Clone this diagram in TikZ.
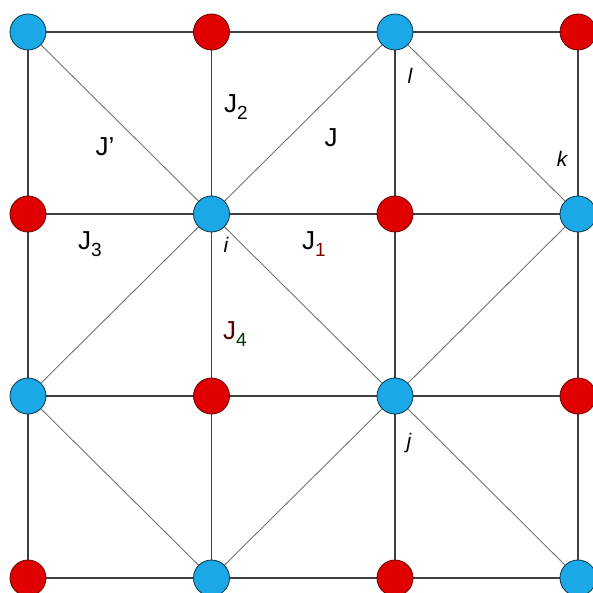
\documentclass[tikz,border=0pt]{standalone}
\usepackage{fontspec}
\setmainfont{Liberation Sans}
\usepackage{tikz}
\definecolor{siteblue}{HTML}{1BA8E6}
\definecolor{sitered}{HTML}{E00000}
\newcommand{\Jsub}[2][black]{J\raisebox{-0.28em}{\fontsize{19}{19}\selectfont\textcolor{#1}{#2}}}

\begin{document}
\begin{tikzpicture}[x=1pt, y=-1pt, every label/.append style={font=\small}]
    \tikzstyle{pt}=[draw,shape=circle,inner sep=0pt,minimum size=36pt,line width=0.8pt];
    \tikzstyle{bl}=[pt,fill=siteblue,draw=black!70!siteblue];
    \tikzstyle{rd}=[pt,fill=sitered,draw=black!55!sitered];
    \tikzstyle{bond}=[line width=1.1pt,draw=black!75];
    \tikzstyle{diag}=[line width=0.9pt,draw=black!55];
    \tikzstyle{lab}=[font=\fontsize{26}{29}\selectfont,inner sep=0pt];
    \tikzstyle{site}=[font=\fontsize{21}{24}\selectfont\itshape,inner sep=0pt];
    \useasboundingbox (0,0) rectangle (592,593);
    %row 1
    \path (28,32) coordinate (11) (211.5,32) coordinate (12) (395,32) coordinate (13) (578,32) coordinate (14);
    %row 2
    \path (28,214) coordinate (21) (211.5,214) coordinate (22) (395,214) coordinate (23) (578,214) coordinate (24);
    %row 3
    \path (28,396) coordinate (31) (211.5,396) coordinate (32) (395,396) coordinate (33) (578,396) coordinate (34);
    %row 4
    \path (28,578) coordinate (41) (211.5,578) coordinate (42) (395,578) coordinate (43) (578,578) coordinate (44);
    %bonds
    \draw[diag] (11) -- (22) -- (13) -- (24) -- (33) -- (22) -- (31) -- (42) -- (33) -- (44);
    \draw[bond] (11) -- (14) (21) -- (24) (31) -- (34) (41) -- (44);
    \draw[bond] (11) -- (41) (12) -- (42) (13) -- (43) (14) -- (44);
    %sites
    \node[bl] at (11) {}; \node[rd] at (12) {}; \node[bl] at (13) {}; \node[rd] at (14) {};
    \node[rd] at (21) {}; \node[bl] at (22) {}; \node[rd] at (23) {}; \node[bl] at (24) {};
    \node[bl] at (31) {}; \node[rd] at (32) {}; \node[bl] at (33) {}; \node[rd] at (34) {};
    \node[rd] at (41) {}; \node[bl] at (42) {}; \node[rd] at (43) {}; \node[bl] at (44) {};
    %couplings
    \node[lab] (jp) at (105,147) {J'};
    \node[lab] (j2) at (236,107) {\Jsub{2}};
    \node[lab] (jj) at (331,138) {J};
    \node[lab] (j1) at (314,244) {\Jsub[red!50!black]{1}};
    \node[lab] (j3) at (90,244) {\Jsub{3}};
    \node[lab] (j4) at (235,334) {\textcolor{red!35!black}{J}\raisebox{-0.28em}{\fontsize{19}{19}\selectfont\textcolor{green!20!black}{4}}};
    %site labels
    \node[site] (si) at (226,245) {i};
    \node[site] (sj) at (409,443) {j};
    \node[site] (sk) at (562,159) {k};
    \node[site] (sl) at (410,76) {l};
\end{tikzpicture}
\end{document}
